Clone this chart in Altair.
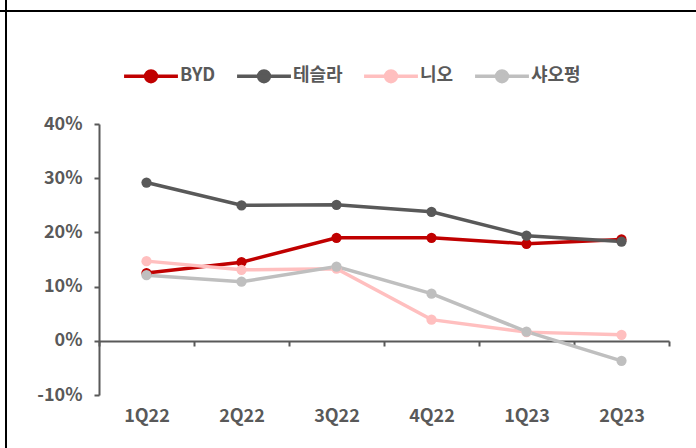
import altair as alt
import pandas as pd

quarters = ["1Q22", "2Q22", "3Q22", "4Q22", "1Q23", "2Q23"]
series = ["BYD", "테슬라", "니오", "샤오펑"]
byd = [12.5, 14.5, 19.0, 19.0, 17.9, 18.7]
tesla = [29.2, 25.0, 25.1, 23.8, 19.4, 18.3]
nio = [14.7, 13.1, 13.3, 3.9, 1.6, 1.1]
xpeng = [12.1, 10.9, 13.7, 8.7, 1.7, -3.7]
colors = ["#C00000", "#595959", "#FFBFBF", "#BFBFBF"]
y_ticks = [-10, 0, 10, 20, 30, 40]

rows = []
for i, (name, vals) in enumerate(zip(series, [byd, tesla, nio, xpeng])):
    for j, (q, v) in enumerate(zip(quarters, vals)):
        rows.append({"quarter": q, "qi": j, "series": name, "value": v, "order": i})
df = pd.DataFrame(rows)

FONT = "Noto Sans CJK KR"
GREY = "#595959"
W, H = 570, 271

sym_path = "M -1 0 L 1 0 M 0.2 0 A 0.2 0.2 0 1 1 -0.2 0 A 0.2 0.2 0 1 1 0.2 0"

leg = alt.Legend(
    title=None,
    orient="none",
    direction="horizontal",
    legendX=23,
    legendY=-77,
    symbolType=sym_path,
    symbolSize=2900,
    symbolStrokeWidth=3.5,
    labelFont=FONT,
    labelFontSize=18,
    labelFontWeight="bold",
    labelColor=GREY,
    labelOffset=0,
    columnPadding=14,
)

cscale = alt.Scale(domain=series, range=colors)

x = alt.X(
    "quarter:N", sort=quarters, title=None,
    scale=alt.Scale(domain=quarters, paddingInner=0, paddingOuter=0),
    axis=alt.Axis(
        offset=-54, domainColor=GREY, domainWidth=2, tickColor=GREY, tickWidth=2,
        tickSize=5, tickBand="extent", labelAngle=0, labelPadding=61,
        labelFont=FONT, labelFontSize=18, labelFontWeight=600, labelColor=GREY,
    ),
)

y = alt.Y(
    "value:Q", title=None,
    scale=alt.Scale(domain=[-10, 40], nice=False, zero=False),
    axis=alt.Axis(
        values=y_ticks, labelExpr="datum.value + '%'", grid=False,
        domainColor=GREY, domainWidth=2, tickColor=GREY, tickWidth=2, tickSize=5,
        labelPadding=12, labelFont=FONT, labelFontSize=18, labelFontWeight=600,
        labelColor=GREY,
    ),
)

base = alt.Chart(df)
lines = base.mark_line(strokeWidth=3.5).encode(
    x=x, y=y,
    color=alt.Color("series:N", scale=cscale, sort=series, legend=leg),
    order=alt.Order("qi:Q"),
)
points = base.mark_point(filled=True, size=105, opacity=1).encode(
    x=x, y=y,
    color=alt.Color("series:N", scale=cscale, sort=series, legend=leg),
    order=alt.Order("order:Q"),
)

frame_h = alt.Chart(pd.DataFrame({"a": [0]})).mark_rule(color="black", strokeWidth=2).encode(
    x=alt.value(-99), x2=alt.value(597), y=alt.value(-113)
)
frame_v = alt.Chart(pd.DataFrame({"a": [0]})).mark_rule(color="black", strokeWidth=2).encode(
    x=alt.value(-93), y=alt.value(-124), y2=alt.value(324)
)

chart = alt.layer(lines, points, frame_h, frame_v).properties(
    width=W,
    height=H,
    autosize=alt.AutoSizeParams(type="none"),
    padding={"left": 99, "top": 124, "right": 27, "bottom": 53},
    background="white",
).configure_view(strokeWidth=0)

chart.save("out.html", embed_options={"renderer": "svg", "actions": False})
